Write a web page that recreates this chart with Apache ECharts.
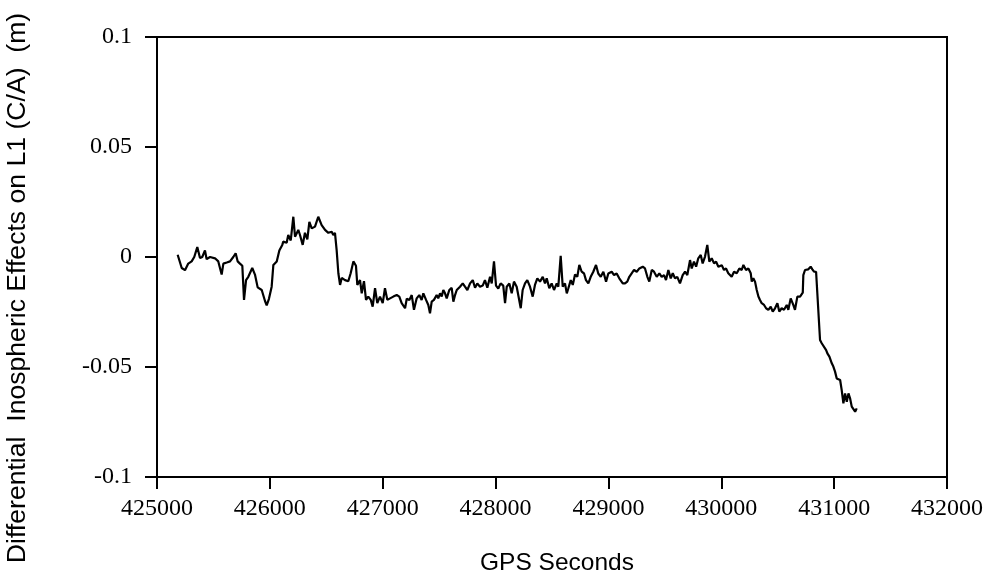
<!DOCTYPE html>
<html>
<head>
<meta charset="utf-8">
<script src="https://cdn.jsdelivr.net/npm/echarts@6/dist/echarts.min.js"></script>
<style>
  html, body { margin: 0; padding: 0; background: #fff; }
  #chart { width: 993px; height: 577px; }
</style>
</head>
<body>
<div id="chart"></div>
<script>
// GPS time of each sample (s)
const gpsSeconds = [
  425183, 425219, 425248, 425277, 425307, 425330, 425357, 425381, 425401, 425425,
  425440, 425470, 425514, 425543, 425573, 425588, 425618, 425647, 425676, 425697,
  425715, 425735, 425756, 425771, 425789, 425809, 425844, 425868, 425892, 425928,
  425957, 425972, 425992, 426016, 426031, 426061, 426084, 426110,
  426119, 426149, 426163, 426185, 426208, 426223, 426252, 426267, 426291, 426311,
  426332, 426350, 426371, 426400, 426429, 426459, 426489, 426518, 426548, 426562,
  426577, 426592, 426607, 426622, 426637, 426666, 426695, 426716, 426740, 426763,
  426775, 426799, 426814, 426834, 426852, 426872, 426894, 426911, 426932, 426952,
  426976, 427000, 427020, 427041, 427065, 427094, 427124, 427147,
  427168, 427198, 427213, 427236, 427257, 427277, 427301, 427324, 427345, 427360,
  427384, 427404, 427419, 427434, 427454, 427478, 427492, 427508, 427523, 427537,
  427552, 427567, 427590, 427611, 427626, 427641, 427656, 427685, 427709, 427729,
  427750, 427774, 427798, 427818, 427838, 427862, 427886, 427906, 427927, 427951,
  427966, 427986, 428004, 428024, 428045, 428068, 428084, 428099, 428122,
  428143, 428163, 428187, 428201, 428223, 428240, 428261, 428281, 428305, 428329,
  428349, 428370, 428394, 428418, 428438, 428453, 428476, 428497, 428518, 428542,
  428556, 428577, 428595, 428615, 428631, 428645, 428666, 428684, 428704, 428724,
  428742, 428763, 428784, 428801, 428822, 428843, 428866, 428890, 428910, 428932,
  428955, 428979, 428999, 429029, 429050, 429073, 429096,
  429127, 429147, 429167, 429185, 429206, 429227, 429251, 429274, 429304, 429324,
  429345, 429362, 429384, 429404, 429428, 429451, 429472, 429493, 429510, 429531,
  429552, 429570, 429590, 429610, 429634, 429658, 429679, 429699, 429723, 429738,
  429758, 429777, 429796, 429818, 429835, 429856, 429876, 429894, 429915, 429936,
  429954, 429974, 430004, 430024,
  430042, 430062, 430092, 430113, 430137, 430160, 430181, 430196, 430219, 430240,
  430261, 430270, 430284, 430299, 430314, 430329, 430343, 430358, 430379, 430397,
  430417, 430438, 430456, 430476, 430497, 430514, 430535, 430556, 430580, 430594,
  430615, 430638, 430653, 430674, 430698, 430722, 430727, 430742, 430771, 430792,
  430807, 430822, 430840, 430851, 430875, 430890, 430905, 430929, 430940, 430958,
  430979, 430993, 431008, 431023, 431053, 431067, 431082, 431097, 431112, 431127,
  431141, 431156, 431171, 431186, 431200
];

// Differential ionospheric delay on L1 C/A (m)
const ionoEffect = [
  0.001, -0.005, -0.006, -0.003, -0.002, 0.0, 0.0045, -0.0005, 0.0, 0.003,
  -0.001, 0.0, -0.0006, -0.002, -0.008, -0.003, -0.0025, -0.002, 0.0, 0.0017,
  -0.002, -0.003, -0.004, -0.0195, -0.0105, -0.009, -0.005, -0.008, -0.0138, -0.015,
  -0.020, -0.022, -0.019, -0.0135, -0.0036, -0.002, 0.003, 0.0055,
  0.007, 0.0065, 0.010, 0.0075, 0.0183, 0.0092, 0.0123, 0.010, 0.0055, 0.011,
  0.008, 0.016, 0.013, 0.0138, 0.0183, 0.0145, 0.0123, 0.011, 0.0115, 0.010,
  0.011, 0.003, -0.0074, -0.0127, -0.0095, -0.0105, -0.011, -0.0074, -0.002, -0.004,
  -0.0127, -0.0105, -0.0165, -0.011, -0.0195, -0.018, -0.0195, -0.0226, -0.0142, -0.021,
  -0.018, -0.021, -0.0142, -0.0195, -0.0188, -0.018, -0.0173, -0.018,
  -0.021, -0.0233, -0.019, -0.0195, -0.0173, -0.024, -0.0188, -0.0173, -0.0195, -0.0165,
  -0.0195, -0.0218, -0.0256, -0.0203, -0.0195, -0.0173, -0.0188, -0.0165, -0.018, -0.015,
  -0.0165, -0.0188, -0.015, -0.014, -0.0203, -0.0173, -0.015, -0.0135, -0.012, -0.0135,
  -0.015, -0.012, -0.0105, -0.014, -0.012, -0.0135, -0.013, -0.0105, -0.014, -0.009,
  -0.012, -0.002, -0.013, -0.0143, -0.012, -0.013, -0.021, -0.0135, -0.012,
  -0.0165, -0.0112, -0.0135, -0.0173, -0.0233, -0.015, -0.012, -0.0105, -0.0135, -0.018,
  -0.0127, -0.0097, -0.0112, -0.009, -0.012, -0.0097, -0.0142, -0.012, -0.015, -0.012,
  -0.0135, 0.0005, -0.0135, -0.012, -0.0165, -0.0142, -0.0105, -0.0127, -0.008, -0.009,
  -0.0036, -0.0067, -0.0075, -0.0105, -0.012, -0.009, -0.0067, -0.0036, -0.0075, -0.009,
  -0.0067, -0.0112, -0.0075, -0.0067, -0.0082, -0.0075, -0.0097,
  -0.012, -0.012, -0.0112, -0.009, -0.0074, -0.0059, -0.0067, -0.0052, -0.0044, -0.0052,
  -0.009, -0.0112, -0.0059, -0.0067, -0.009, -0.0074, -0.009, -0.0082, -0.0105, -0.0059,
  -0.0097, -0.0074, -0.0097, -0.009, -0.012, -0.0082, -0.0067, -0.0082, -0.0014, -0.0052,
  -0.0021, -0.0044, -0.0006, 0.0009, -0.0029, 0.0002, 0.0055, -0.0021, -0.0006, -0.0029,
  -0.0021, -0.0044, -0.0037, -0.0059,
  -0.0052, -0.0074, -0.009, -0.0067, -0.0074, -0.0052, -0.0059, -0.0036, -0.0059, -0.0052,
  -0.0074, -0.0112, -0.0097, -0.0112, -0.015, -0.018, -0.0195, -0.021, -0.0218, -0.0233,
  -0.024, -0.0226, -0.0248, -0.0233, -0.021, -0.0248, -0.0233, -0.024, -0.0218, -0.024,
  -0.0188, -0.0218, -0.024, -0.018, -0.018, -0.0162, -0.0082, -0.0059, -0.0056, -0.0044,
  -0.0056, -0.0067, -0.0067, -0.0074, -0.0377, -0.0392, -0.040, -0.0423, -0.0438, -0.0453,
  -0.0483, -0.0498, -0.0521, -0.0552, -0.0559, -0.0605, -0.0665, -0.062, -0.0658, -0.062,
  -0.0642, -0.068, -0.0688, -0.0703, -0.0688
];

// Axis ranges and tick steps
const xRange = [425000, 432000];
const xStep = 1000;
const yRange = [-0.1, 0.1];
const yStep = 0.05;

const xTitle = 'GPS Seconds';
const yTitle = 'Differential  Inospheric Effects on L1 (C/A)  (m)';

const seriesData = gpsSeconds.map((t, i) => [t, ionoEffect[i]]);

const chart = echarts.init(document.getElementById('chart'), null, { renderer: 'canvas' });

const tickFont = { fontFamily: 'Liberation Serif', fontSize: 24, color: '#000' };
const titleFont = { fontFamily: 'Liberation Sans', fill: '#000', align: 'center', verticalAlign: 'middle' };

chart.setOption({
  animation: false,
  backgroundColor: '#fff',
  grid: {
    left: 157, right: 46, top: 37, bottom: 100,
    show: true, borderColor: '#000', borderWidth: 2, backgroundColor: 'transparent'
  },
  xAxis: {
    type: 'value',
    min: xRange[0], max: xRange[1], interval: xStep,
    axisLine: { show: true, onZero: false, lineStyle: { color: '#000', width: 2 } },
    axisTick: { show: true, inside: false, length: 12, lineStyle: { color: '#000', width: 2 } },
    splitLine: { show: false },
    axisLabel: Object.assign({ margin: 20, formatter: v => String(v) }, tickFont)
  },
  yAxis: {
    type: 'value',
    min: yRange[0], max: yRange[1], interval: yStep,
    axisLine: { show: true, onZero: false, lineStyle: { color: '#000', width: 2 } },
    axisTick: { show: true, inside: false, length: 12, lineStyle: { color: '#000', width: 2 } },
    splitLine: { show: false },
    axisLabel: Object.assign({ margin: 25, formatter: v => String(+v.toFixed(2)) }, tickFont)
  },
  graphic: [
    {
      type: 'text',
      x: 18, y: 288,
      rotation: Math.PI / 2,
      style: Object.assign({ text: yTitle, fontSize: 26.6 }, titleFont)
    },
    {
      type: 'text',
      x: 557, y: 563,
      style: Object.assign({ text: xTitle, fontSize: 24.5 }, titleFont)
    }
  ],
  series: [{
    type: 'line',
    data: seriesData,
    showSymbol: false,
    symbol: 'none',
    lineStyle: { color: '#000', width: 2.2 },
    z: 3
  }]
});
</script>
</body>
</html>
